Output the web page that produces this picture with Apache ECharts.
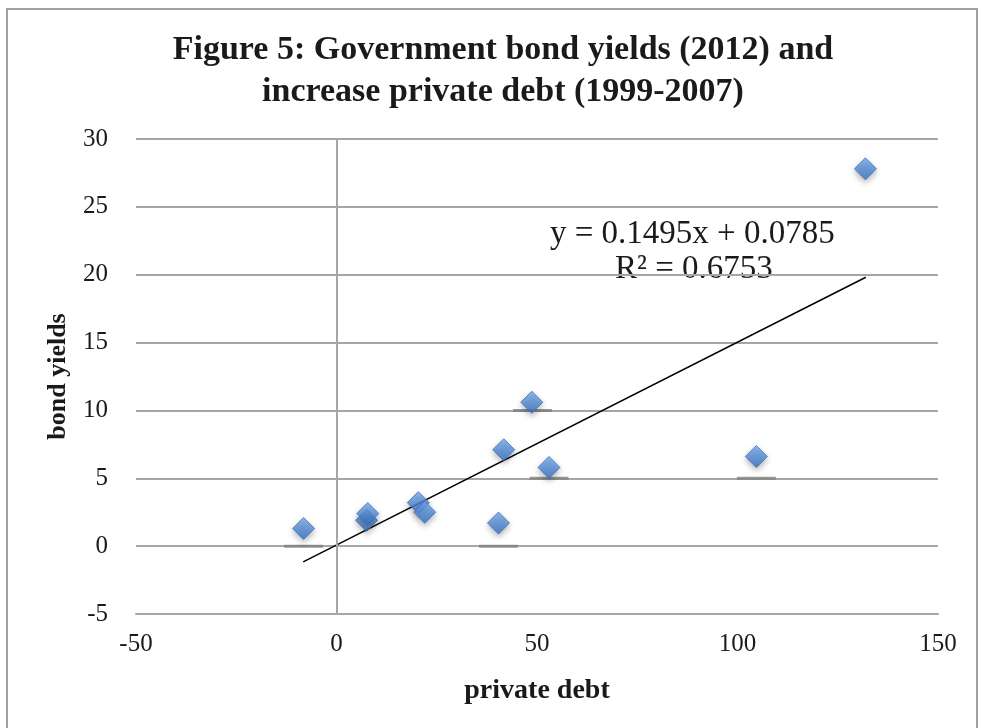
<!DOCTYPE html>
<html>
<head>
<meta charset="utf-8">
<script src="https://cdn.jsdelivr.net/npm/echarts@6/dist/echarts.min.js"></script>
<style>
  html, body { margin: 0; padding: 0; background: #fff; }
  #chart { width: 981px; height: 728px; }
</style>
</head>
<body>
<div id="chart"></div>
<script>
// increase in private debt 1999-2007 (x) vs bond yields 2012 (y)
const privateDebt = [-8.2, 7.5, 7.8, 20.4, 22.0, 40.4, 41.7, 48.7, 53.0, 104.7, 131.9]
const bondYields = [1.3, 1.9, 2.4, 3.2, 2.5, 1.7, 7.1, 10.6, 5.8, 6.6, 27.8]

// short dark marks sitting on the gridlines under some points
const markX = [-8.2, 40.4, 48.9, 53.0, 104.7]
const markY = [0, 0, 10, 5, 5]

// linear trendline ends (y = 0.1495x + 0.0785)
const trendX = [-8.3, 132]
const trendY = [-1.16, 19.81]

const xTicks = [-50, 0, 50, 100, 150]
const yTicks = [-5, 0, 5, 10, 15, 20, 25, 30]

const serif = 'Liberation Serif'
const gridColor = '#a6a6a6'

const chart = echarts.init(document.getElementById('chart'))

chart.setOption({
  animation: false,
  title: {
    text: 'Figure 5: Government bond yields (2012) and\nincrease private debt (1999-2007)',
    left: 498,
    textAlign: 'center',
    top: 24,
    textStyle: {
      fontFamily: serif,
      fontWeight: 'bold',
      fontSize: 34,
      lineHeight: 42,
      color: '#1a1a1a'
    }
  },
  grid: {
    left: 136,
    right: 43,
    top: 139,
    bottom: 114
  },
  xAxis: {
    type: 'value',
    min: xTicks[0],
    max: xTicks[xTicks.length - 1],
    interval: 50,
    name: 'private debt',
    nameLocation: 'middle',
    nameGap: 63,
    nameMoveOverlap: false,
    nameTextStyle: { fontFamily: serif, fontWeight: 'bold', fontSize: 28, color: '#1a1a1a' },
    axisLine: { onZero: false, lineStyle: { color: gridColor, width: 2 } },
    axisTick: { show: false },
    splitLine: { show: false },
    axisLabel: { margin: 18, fontFamily: serif, fontSize: 25, color: '#1a1a1a' }
  },
  yAxis: {
    type: 'value',
    min: yTicks[0],
    max: yTicks[yTicks.length - 1],
    interval: 5,
    name: 'bond yields',
    nameLocation: 'middle',
    nameRotate: 90,
    nameGap: 65,
    nameMoveOverlap: false,
    nameTextStyle: { fontFamily: serif, fontWeight: 'bold', fontSize: 26, color: '#1a1a1a' },
    axisLine: { show: false },
    axisTick: { show: false },
    splitLine: { lineStyle: { color: gridColor, width: 2 } },
    axisLabel: { margin: 28, fontFamily: serif, fontSize: 25, color: '#1a1a1a' }
  },
  graphic: [
    {
      type: 'rect',
      shape: { x: 7, y: 9, width: 970, height: 760 },
      style: { fill: 'none', stroke: '#a0a0a0', lineWidth: 2 },
      silent: true
    },
    {
      type: 'text',
      left: 550,
      top: 218,
      style: { text: 'y = 0.1495x + 0.0785', fontFamily: serif, fontSize: 33, fill: '#1a1a1a' }
    },
    {
      type: 'text',
      left: 615,
      top: 253,
      style: { text: 'R² = 0.6753', fontFamily: serif, fontSize: 33, fill: '#1a1a1a' }
    }
  ],
  series: [
    {
      name: 'zero',
      type: 'line',
      data: [],
      markLine: {
        silent: true,
        symbol: 'none',
        label: { show: false },
        lineStyle: { color: gridColor, width: 2, type: 'solid' },
        data: [{ xAxis: 0 }]
      }
    },
    {
      name: 'marks',
      type: 'scatter',
      symbol: 'rect',
      symbolSize: [39, 3],
      itemStyle: { color: '#7f7f7f' },
      data: markX.map((x, i) => [x, markY[i]]),
      z: 3
    },
    {
      name: 'trend',
      type: 'line',
      showSymbol: false,
      lineStyle: { color: '#000', width: 1.5 },
      data: trendX.map((x, i) => [x, trendY[i]]),
      z: 4
    },
    {
      name: 'countries',
      type: 'scatter',
      symbol: 'diamond',
      symbolSize: 22,
      itemStyle: {
        color: new echarts.graphic.LinearGradient(0, 0, 0, 1, [
          { offset: 0, color: '#74abec' },
          { offset: 1, color: '#3571c4' }
        ]),
        borderColor: '#3a70ba',
        borderWidth: 1,
        shadowColor: 'rgba(0,0,0,0.35)',
        shadowBlur: 6,
        shadowOffsetY: 3
      },
      data: privateDebt.map((x, i) => [x, bondYields[i]]),
      z: 5
    }
  ]
})
</script>
</body>
</html>
